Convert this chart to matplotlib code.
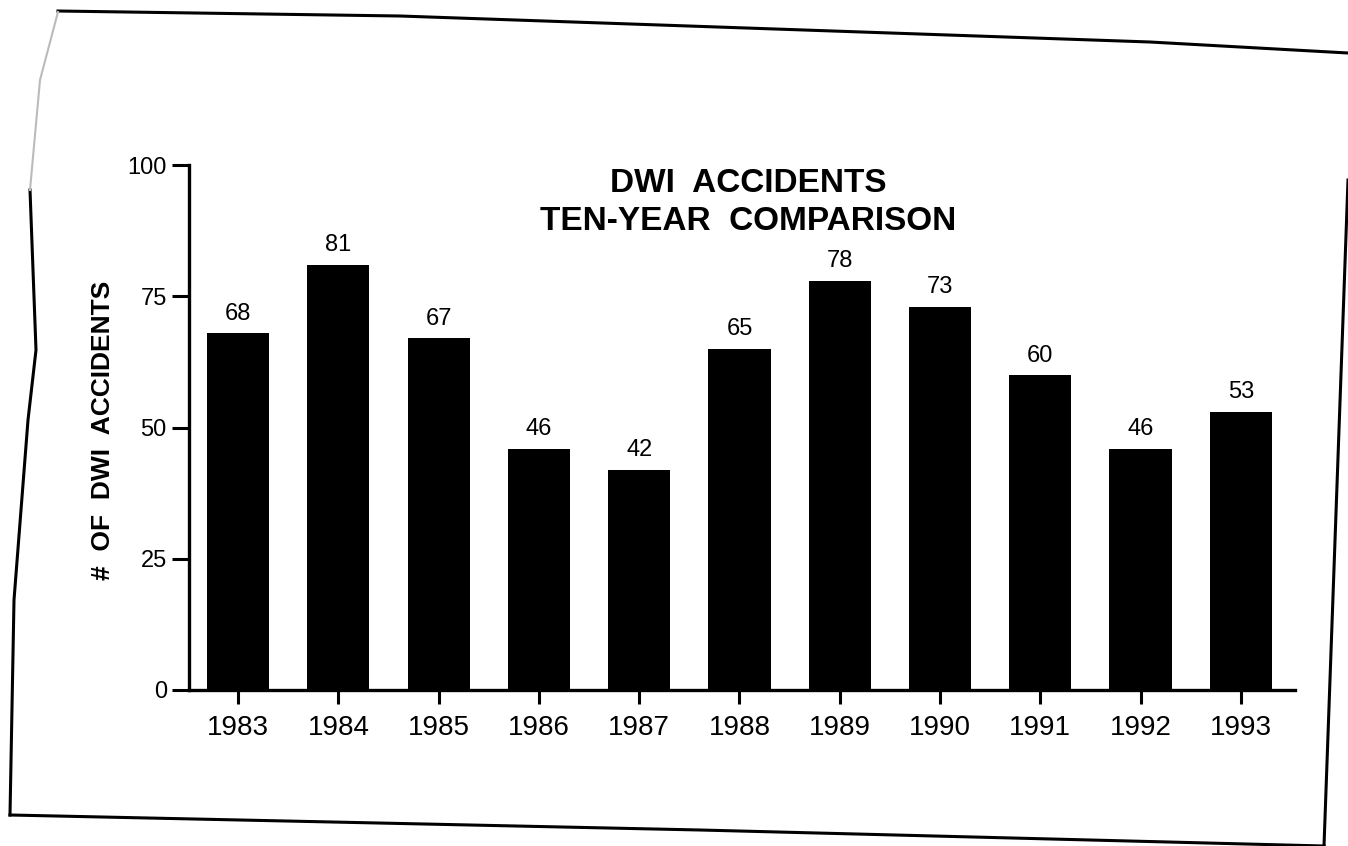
import matplotlib
matplotlib.use("Agg")
import matplotlib.pyplot as plt
from matplotlib.lines import Line2D

years = ["1983", "1984", "1985", "1986", "1987", "1988", "1989", "1990", "1991", "1992", "1993"]
accidents = [68, 81, 67, 46, 42, 65, 78, 73, 60, 46, 53]
yticks = [0, 25, 50, 75, 100]

plt.rcParams['font.family'] = ['Liberation Sans', 'DejaVu Sans']

W, H = 1348, 846
fig = plt.figure(figsize=(W / 100, H / 100), dpi=100)
ax = fig.add_axes([189 / W, 1 - 690 / H, (1295 - 189) / W, (690 - 165) / H])

x = list(range(len(years)))
ax.bar(x, accidents, width=0.62, color='black', zorder=2)
for xi, v in zip(x, accidents):
    ax.annotate(str(v), (xi, v), xytext=(0, 6), textcoords='offset points',
                ha='center', va='bottom', fontsize=17)

ax.set_xlim(-0.49, len(years) - 1 + 0.54)
ax.set_ylim(0, 100)
ax.set_yticks(yticks)
ax.set_xticks(x)
ax.set_xticklabels(years, fontsize=20)
ax.tick_params(axis='y', labelsize=17, length=12, width=2.2, direction='out', pad=4)
ax.tick_params(axis='x', length=10, width=2.2, direction='out', pad=8)
for s in ['top', 'right']:
    ax.spines[s].set_visible(False)
for s in ['left', 'bottom']:
    ax.spines[s].set_linewidth(2.4)

fig.text(103 / W, 1 - 430 / H, "#  OF  DWI  ACCIDENTS", rotation=90, ha='center', va='center',
         fontsize=19, fontweight='bold')

fig.text(0.555, 1 - 168 / H, "DWI  ACCIDENTS\nTEN-YEAR  COMPARISON", ha='center', va='top',
         fontsize=24, fontweight='bold', linespacing=1.3)

# scanned page border
def px(pts):
    return [p[0] / W for p in pts], [1 - p[1] / H for p in pts]

border_lines = [
    [(58, 11), (400, 16), (1150, 42), (1348, 53)],
    [(30, 190), (36, 350), (28, 420), (14, 600), (10, 815)],
    [(10, 815), (700, 830), (1324, 846)],
    [(1348, 180), (1324, 846)],
]
for pts in border_lines:
    xs, ys = px(pts)
    fig.add_artist(Line2D(xs, ys, color='black', lw=2.2, transform=fig.transFigure))
xs, ys = px([(58, 12), (40, 80), (30, 190)])
fig.add_artist(Line2D(xs, ys, color='#bbbbbb', lw=1.5, transform=fig.transFigure))

fig.savefig("out.png", dpi=100)
